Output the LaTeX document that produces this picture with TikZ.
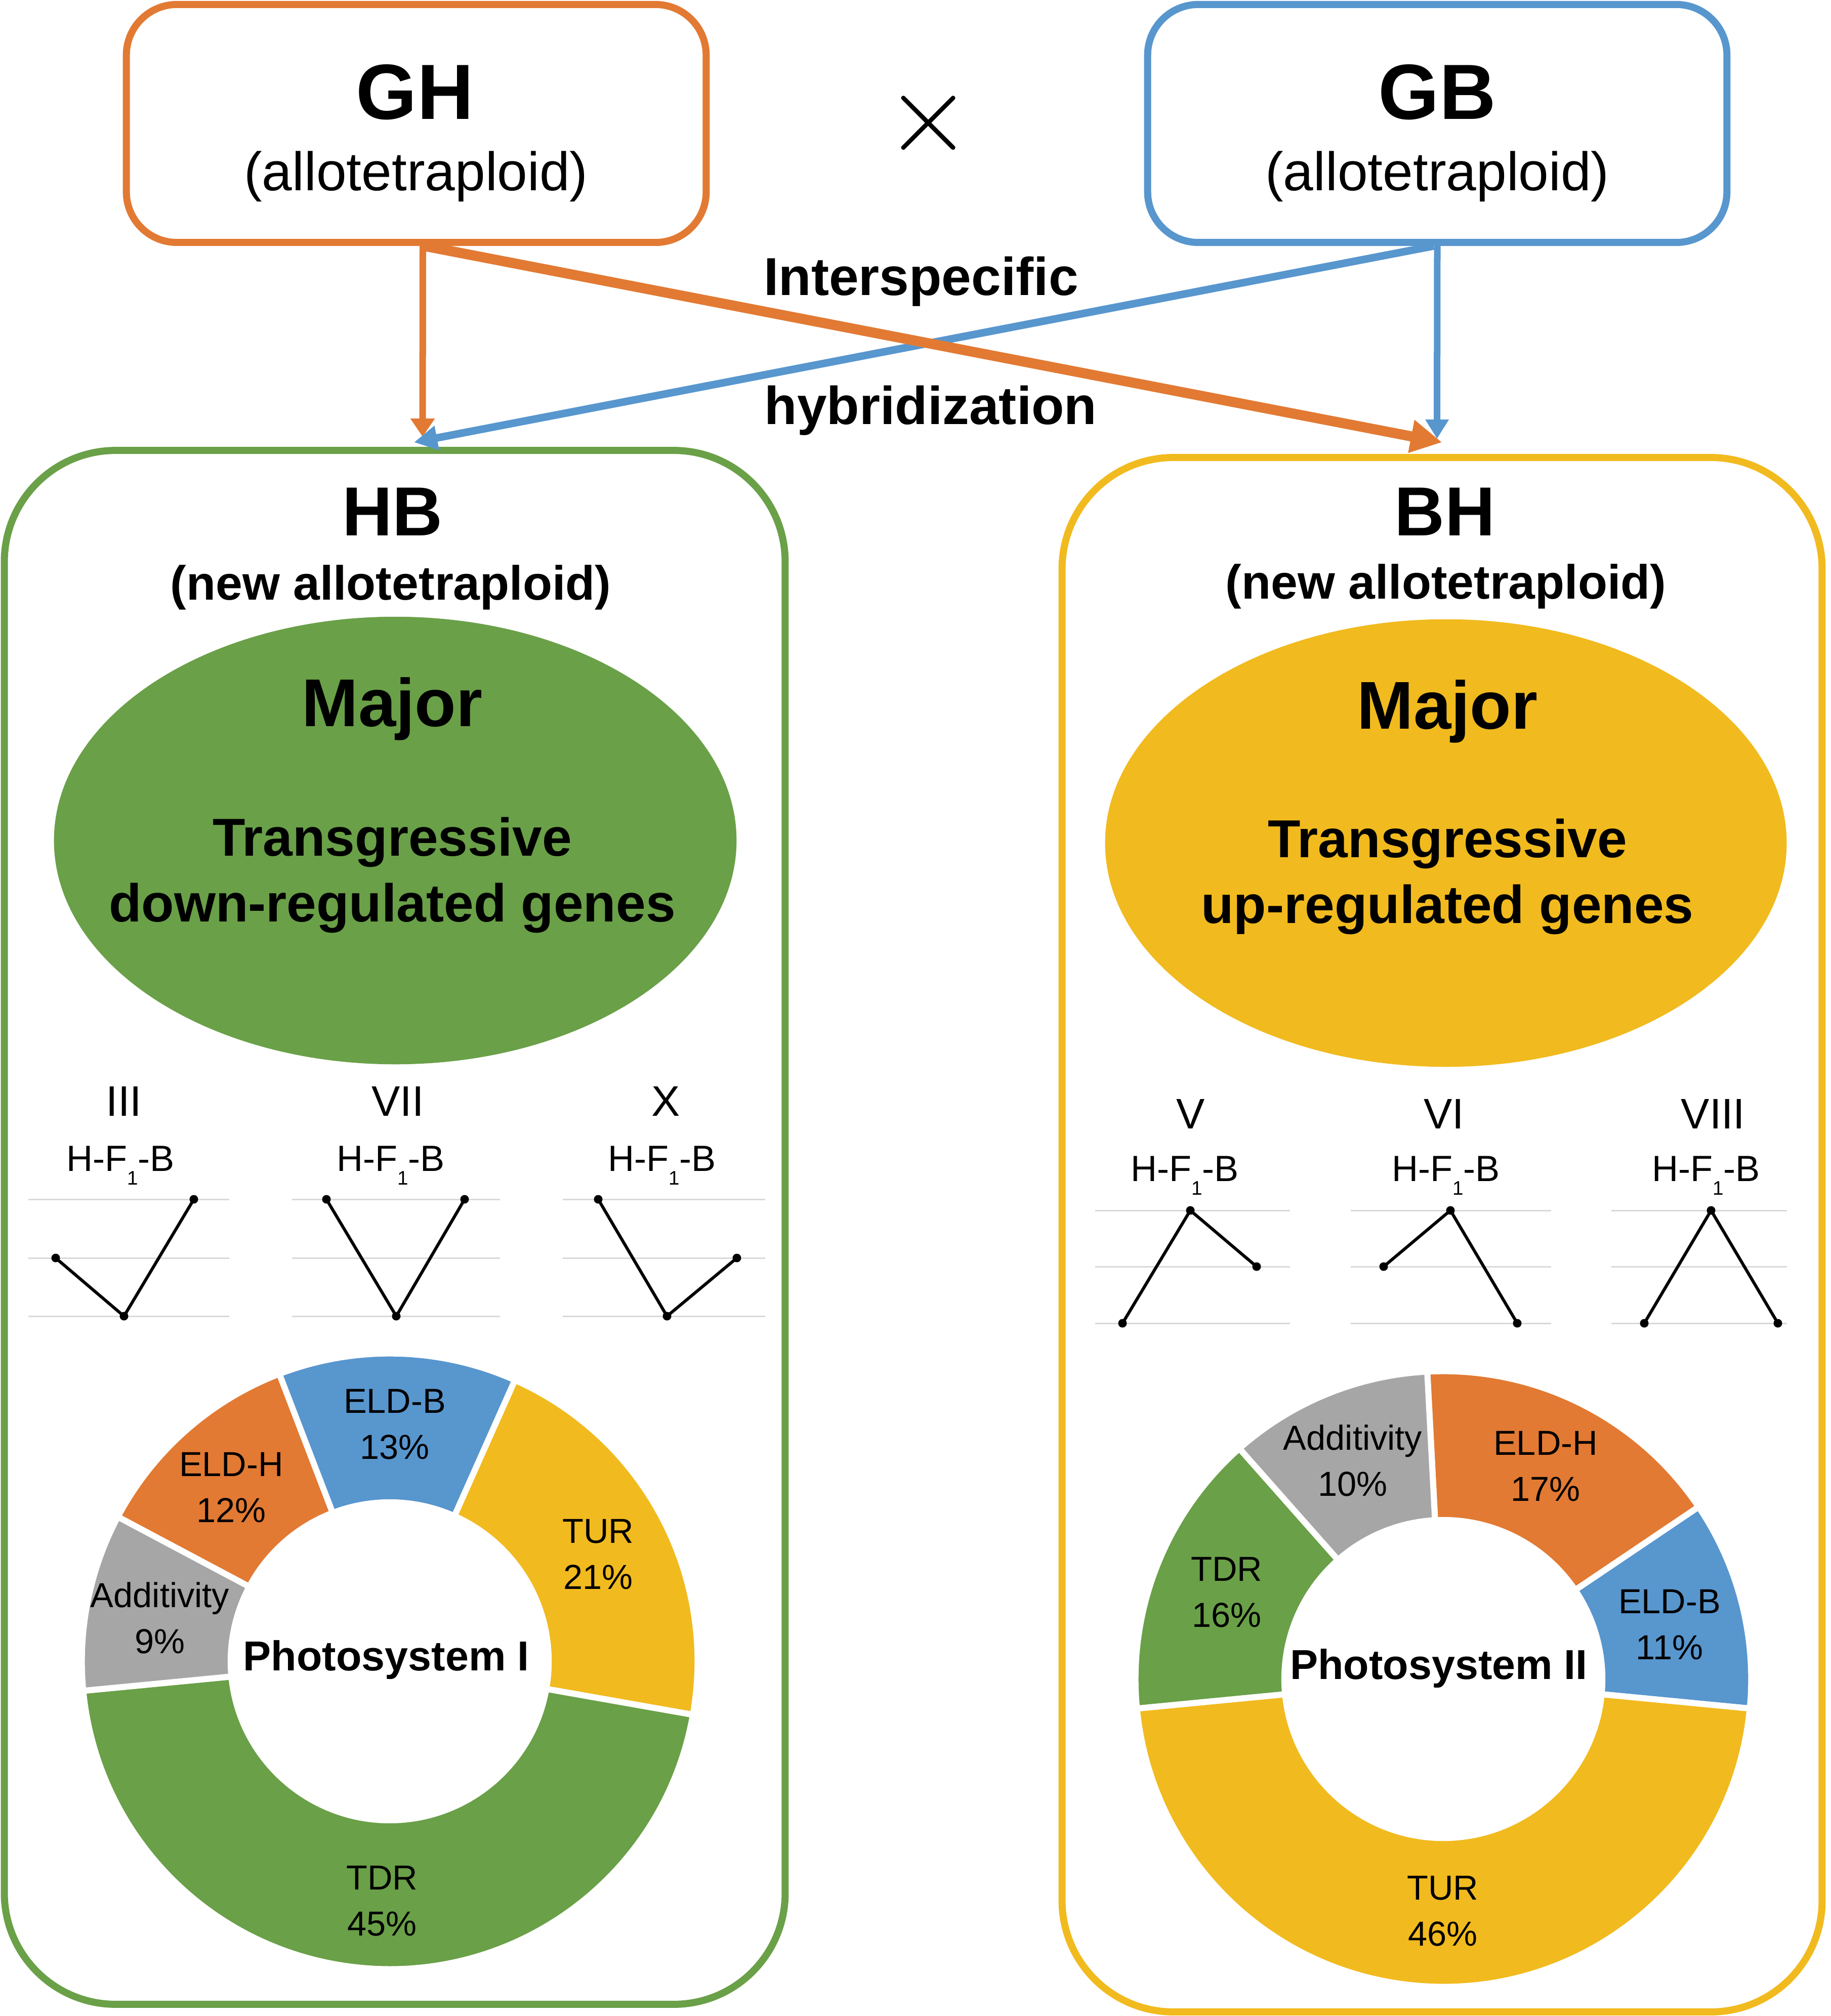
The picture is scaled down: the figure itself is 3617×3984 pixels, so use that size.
\documentclass[tikz,border=0pt]{standalone}
\usepackage{fontspec}
\setmainfont{Liberation Sans}
\usetikzlibrary{arrows.meta,calc,shapes.geometric}
\definecolor{cOrange}{RGB}{226,122,51}
\definecolor{cBlue}{RGB}{88,150,206}
\definecolor{cGreen}{RGB}{106,160,72}
\definecolor{cYellow}{RGB}{241,186,30}
\definecolor{cGray}{RGB}{166,166,166}
\definecolor{cGrid}{RGB}{217,217,217}
\newcommand{\dslice}[5]{%
  \fill[#5, draw=white, line width=0.12cm]
    ($(#1,#2)+(#3:6.08cm)$) arc[start angle=#3, end angle=#4, radius=6.08cm]
    -- ($(#1,#2)+(#4:3.14cm)$) arc[start angle=#4, end angle=#3, radius=3.14cm] -- cycle;}
\newcommand{\hfbtext}{H-F\raisebox{-0.38em}{\fontsize{11}{11}\selectfont 1}-B}
\begin{document}
\begin{tikzpicture}[x=0.01cm, y=0.01cm,
  parentbox/.style={draw, line width=0.14cm, rounded corners=1cm, minimum width=11.45cm, minimum height=4.7cm, inner sep=0pt},
  hybridbox/.style={draw, line width=0.14cm, rounded corners=2.2cm, inner sep=0pt},
  txt/.style={inner sep=0pt, anchor=base},
  bigname/.style={txt, font=\fontsize{44}{44}\selectfont\bfseries},
  subname/.style={txt, font=\fontsize{30.5}{30.5}\selectfont},
  hybname/.style={txt, font=\fontsize{39}{39}\selectfont\bfseries},
  hybsub/.style={txt, font=\fontsize{27}{27}\selectfont\bfseries},
  majortxt/.style={txt, font=\fontsize{38}{38}\selectfont\bfseries},
  ellitxt/.style={txt, font=\fontsize{30}{30}\selectfont\bfseries},
  hybtxt/.style={txt, font=\fontsize{30}{30}\selectfont\bfseries},
  roman/.style={txt, font=\fontsize{24}{24}\selectfont},
  hfb/.style={txt, font=\fontsize{20.5}{20.5}\selectfont},
  gridline/.style={cGrid, line width=0.03cm},
  trend/.style={black, line width=0.06cm},
  dot/.style={circle, fill=black, inner sep=0pt, minimum size=0.17cm},
  pielbl/.style={inner sep=0pt, align=center, font=\fontsize{19.5}{25.9}\selectfont},
  pietitle/.style={inner sep=0pt, font=\fontsize{23.5}{23.5}\selectfont\bfseries},
  oThin/.style={cOrange, line width=0.13cm, -{Triangle[width=0.46cm, length=0.36cm]}},
  oThick/.style={cOrange, line width=0.2cm, -{Triangle[width=0.62cm, length=0.62cm]}},
  bDiag/.style={cBlue, line width=0.15cm, -{Triangle[width=0.46cm, length=0.46cm]}},
  bThin/.style={cBlue, line width=0.13cm, -{Triangle[width=0.44cm, length=0.38cm]}}
]
\useasboundingbox (0,0) rectangle (3617,-3984);
\fill[white] (0,0) rectangle (3617,-3984);

% parent boxes
\node[parentbox, draw=cOrange] (GH) at (822.5,-244) {};
\node[parentbox, draw=cBlue, minimum width=11.44cm] (GB) at (2840,-244) {};
\node[bigname] (GHt) at (820,-235) {GH};
\node[subname] (GHs) at (822,-376) {(allotetraploid)};
\node[bigname] (GBt) at (2840,-235) {GB};
\node[subname] (GBs) at (2840,-376) {(allotetraploid)};
\node[inner sep=0pt, scale=6.3] (cross) at (1835,-243) {$\times$};

% hybrid boxes
\node[hybridbox, draw=cGreen, minimum width=15.42cm, minimum height=30.69cm] (HB) at (780,-2425.5) {};
\node[hybridbox, draw=cYellow, minimum width=15.01cm, minimum height=30.70cm] (BH) at (2849.5,-2440) {};

% connectors
\draw[oThin] ([xshift=0.13cm]GH.south) -- ([xshift=0.55cm,yshift=0.2cm]HB.north);
\draw[bDiag] ([xshift=-0.07cm]GB.south) -- ([xshift=0.38cm,yshift=0.09cm]HB.north);
\draw[bThin] (GB.south) -- ([xshift=-0.1cm,yshift=0.3cm]BH.north);
\draw[oThick] ([xshift=0.16cm]GH.south) -- ([yshift=0.23cm]BH.north);

\node[hybtxt] (inter) at (1820,-583) {Interspecific};
\node[hybtxt] (hybr) at (1839,-838) {hybridization};

% HB content
\node[hybname] (HBt) at (776,-1058) {HB};
\node[hybsub] (HBs) at (772,-1185) {(new allotetraploid)};
\node[ellipse, fill=cGreen, inner sep=0pt, minimum width=13.48cm, minimum height=8.84cm] (HBell) at (781,-1661) {};
\node[majortxt] (HBmaj) at (775,-1435) {Major};
\node[ellitxt] (HBtr) at (775,-1691) {Transgressive};
\node[ellitxt] (HBdown) at (775,-1821) {down-regulated genes};

% BH content
\node[hybname] (BHt) at (2855,-1058) {BH};
\node[hybsub] (BHs) at (2857,-1183) {(new allotetraploid)};
\node[ellipse, fill=cYellow, inner sep=0pt, minimum width=13.46cm, minimum height=8.84cm] (BHell) at (2857,-1666) {};
\node[majortxt] (BHmaj) at (2860,-1440) {Major};
\node[ellitxt] (BHtr) at (2860,-1694) {Transgressive};
\node[ellitxt] (BHup) at (2860,-1824) {up-regulated genes};

% left trend charts
\foreach \xa/\xb in {56/453, 577/988, 1112/1512}
  \foreach \yy in {2370,2486,2601}
    \draw[gridline] (\xa,-\yy) -- (\xb,-\yy);
\node[roman] (rIII) at (245,-2205) {III};
\node[roman] (rVII) at (786,-2205) {VII};
\node[roman] (rX) at (1316,-2205) {X};
\node[hfb] (h1) at (238,-2314) {\hfbtext};
\node[hfb] (h2) at (772,-2314) {\hfbtext};
\node[hfb] (h3) at (1308,-2314) {\hfbtext};
\node[dot] (a1) at (110,-2486) {};
\node[dot] (a2) at (245,-2601) {};
\node[dot] (a3) at (383,-2370) {};
\node[dot] (b1) at (645,-2370) {};
\node[dot] (b2) at (783,-2601) {};
\node[dot] (b3) at (918,-2370) {};
\node[dot] (c1) at (1182,-2370) {};
\node[dot] (c2) at (1318,-2601) {};
\node[dot] (c3) at (1456,-2486) {};
\draw[trend] (a1.center) -- (a2.center) -- (a3.center);
\draw[trend] (b1.center) -- (b2.center) -- (b3.center);
\draw[trend] (c1.center) -- (c2.center) -- (c3.center);

% right trend charts
\foreach \xa/\xb in {2164/2549, 2669/3065, 3184/3531}
  \foreach \yy in {2392,2503,2615}
    \draw[gridline] (\xa,-\yy) -- (\xb,-\yy);
\node[roman] (rV) at (2353,-2230) {V};
\node[roman] (rVI) at (2853,-2230) {VI};
\node[roman] (rVIII) at (3385,-2230) {VIII};
\node[hfb] (h4) at (2341,-2334) {\hfbtext};
\node[hfb] (h5) at (2857,-2334) {\hfbtext};
\node[hfb] (h6) at (3371,-2334) {\hfbtext};
\node[dot] (d1) at (2218,-2615) {};
\node[dot] (d2) at (2352,-2392) {};
\node[dot] (d3) at (2483,-2503) {};
\node[dot] (e1) at (2734,-2503) {};
\node[dot] (e2) at (2866,-2392) {};
\node[dot] (e3) at (2998,-2615) {};
\node[dot] (f1) at (3249,-2615) {};
\node[dot] (f2) at (3381,-2392) {};
\node[dot] (f3) at (3513,-2615) {};
\draw[trend] (d1.center) -- (d2.center) -- (d3.center);
\draw[trend] (e1.center) -- (e2.center) -- (e3.center);
\draw[trend] (f1.center) -- (f2.center) -- (f3.center);

% left donut
\dslice{770}{-3283}{66}{-10}{cYellow}
\dslice{770}{-3283}{-10}{-174.5}{cGreen}
\dslice{770}{-3283}{185.5}{152}{cGray}
\dslice{770}{-3283}{152}{111}{cOrange}
\dslice{770}{-3283}{111}{66}{cBlue}
\node[pielbl] (lELDB) at (780,-2815) {ELD-B\\13\%};
\node[pielbl] (lELDH) at (457,-2940) {ELD-H\\12\%};
\node[pielbl] (lTUR) at (1182,-3072) {TUR\\21\%};
\node[pielbl] (lADD) at (316,-3197) {Additivity\\9\%};
\node[pielbl] (lTDR) at (755,-3757) {TDR\\45\%};
\node[pietitle] (lPS) at (763,-3280) {Photosystem I};

% right donut
\dslice{2852}{-3318}{93}{34}{cOrange}
\dslice{2852}{-3318}{34}{-5.5}{cBlue}
\dslice{2852}{-3318}{-5.5}{-174.5}{cYellow}
\dslice{2852}{-3318}{185.5}{131.5}{cGreen}
\dslice{2852}{-3318}{131.5}{93}{cGray}
\node[pielbl] (rADD) at (2673,-2886) {Additivity\\10\%};
\node[pielbl] (rELDH) at (3054,-2898) {ELD-H\\17\%};
\node[pielbl] (rTDR) at (2424,-3147) {TDR\\16\%};
\node[pielbl] (rELDB) at (3299,-3211) {ELD-B\\11\%};
\node[pielbl] (rTUR) at (2851,-3777) {TUR\\46\%};
\node[pietitle] (rPS) at (2843,-3297) {Photosystem II};
\end{tikzpicture}
\end{document}
